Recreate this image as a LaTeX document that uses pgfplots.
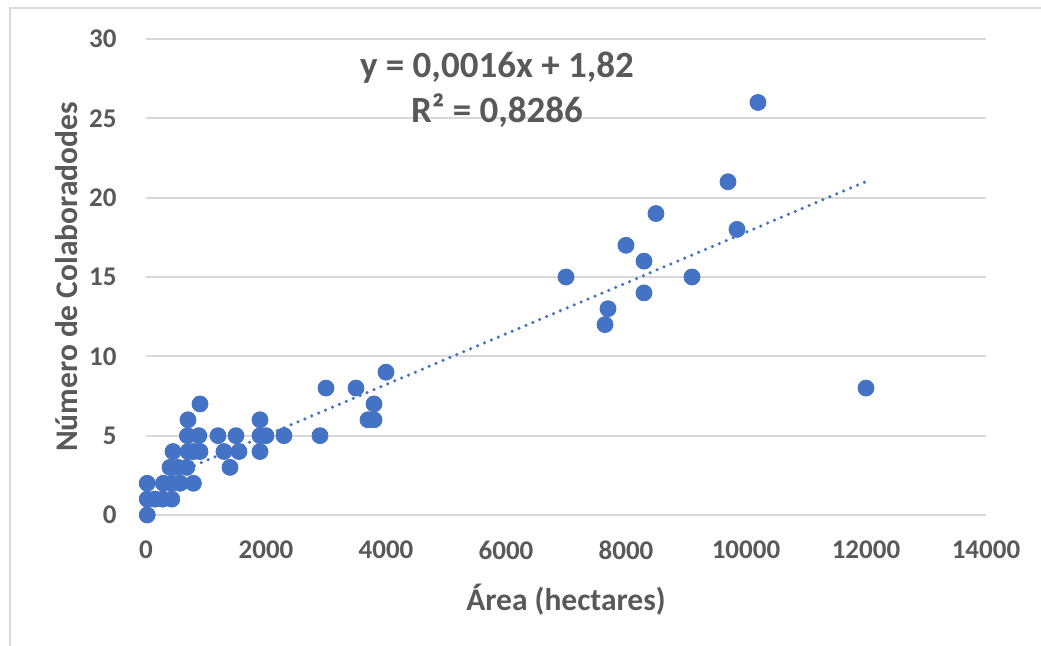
\documentclass[border=0pt]{standalone}
\usepackage{fontspec}
\setmainfont{Carlito}
\usepackage{pgfplots}
\pgfplotsset{compat=1.18}
\definecolor{dotblue}{HTML}{4472C4}
\definecolor{txtgray}{HTML}{595959}
\definecolor{gridgray}{HTML}{D9D9D9}

\begin{document}
\begin{tikzpicture}
\path[use as bounding box] (-73pt,-65.5pt) rectangle (447.5pt,257.5pt);
% chart frame (cropped)
\draw[gridgray, line width=1pt] (-68pt,-66pt) -- (-68pt,253.5pt) -- (448pt,253.5pt);
\begin{axis}[
  at={(0,0)}, anchor=south west,
  scale only axis,
  width=420pt, height=238pt,
  xmin=0, xmax=14000, ymin=0, ymax=30,
  xtick={0,2000,...,14000},
  ytick={0,5,...,30},
  axis line style={draw=none},
  major tick length=0pt,
  ymajorgrids,
  grid style={gridgray, line width=1pt},
  scaled x ticks=false,
  /pgf/number format/assume math mode=true,
  /pgf/number format/set thousands separator={},
  tick label style={font=\fontsize{13.5}{16}\selectfont\bfseries, text=txtgray},
  xticklabel style={anchor=center, yshift=-17.5pt},
  yticklabel style={anchor=east, inner sep=0pt, xshift=-14.5pt},
  xlabel={Área (hectares)},
  ylabel={Número de Colaboradodes},
  label style={font=\fontsize{15.75}{18}\selectfont\bfseries, text=txtgray},
  xlabel style={at={(axis description cs:0.5,-0.1786)}, anchor=center},
  ylabel style={at={(axis description cs:-0.094,0.5)}, anchor=center},
  clip=false,
]
% trend line (linear fit over the data range)
\addplot[dotblue, line width=1.75pt, line cap=round,
  dash pattern=on 0pt off 3.75pt]
  coordinates {(0,1.82) (12000,21.02)};

\addplot[only marks, mark=*, mark size=4pt,
  mark options={fill=dotblue, draw=dotblue}]
  coordinates {
  (20,0)
  (20,1) (150,1) (280,1) (430,1)
  (20,2) (290,2) (430,2) (570,2) (790,2)
  (400,3) (530,3) (680,3) (1400,3)
  (450,4) (700,4) (790,4) (900,4) (1300,4) (1550,4) (1900,4)
  (690,5) (880,5) (1200,5) (1500,5) (1900,5) (2000,5) (2300,5) (2900,5)
  (700,6) (1900,6) (3700,6) (3800,6)
  (900,7) (3800,7)
  (3000,8) (3500,8) (12000,8)
  (4000,9)
  (7000,15) (7650,12) (7700,13) (8000,17) (8300,16) (8300,14)
  (8500,19) (9100,15) (9700,21) (9850,18) (10200,26)
};

\node[font=\fontsize{18.5}{22}\selectfont\bfseries, text=txtgray]
  at (axis cs:5850,28.2) {y = 0,0016x + 1,82};
\node[font=\fontsize{18.5}{22}\selectfont\bfseries, text=txtgray]
  at (axis cs:5850,25.5) {R² = 0,8286};
\end{axis}
\end{tikzpicture}
\end{document}
